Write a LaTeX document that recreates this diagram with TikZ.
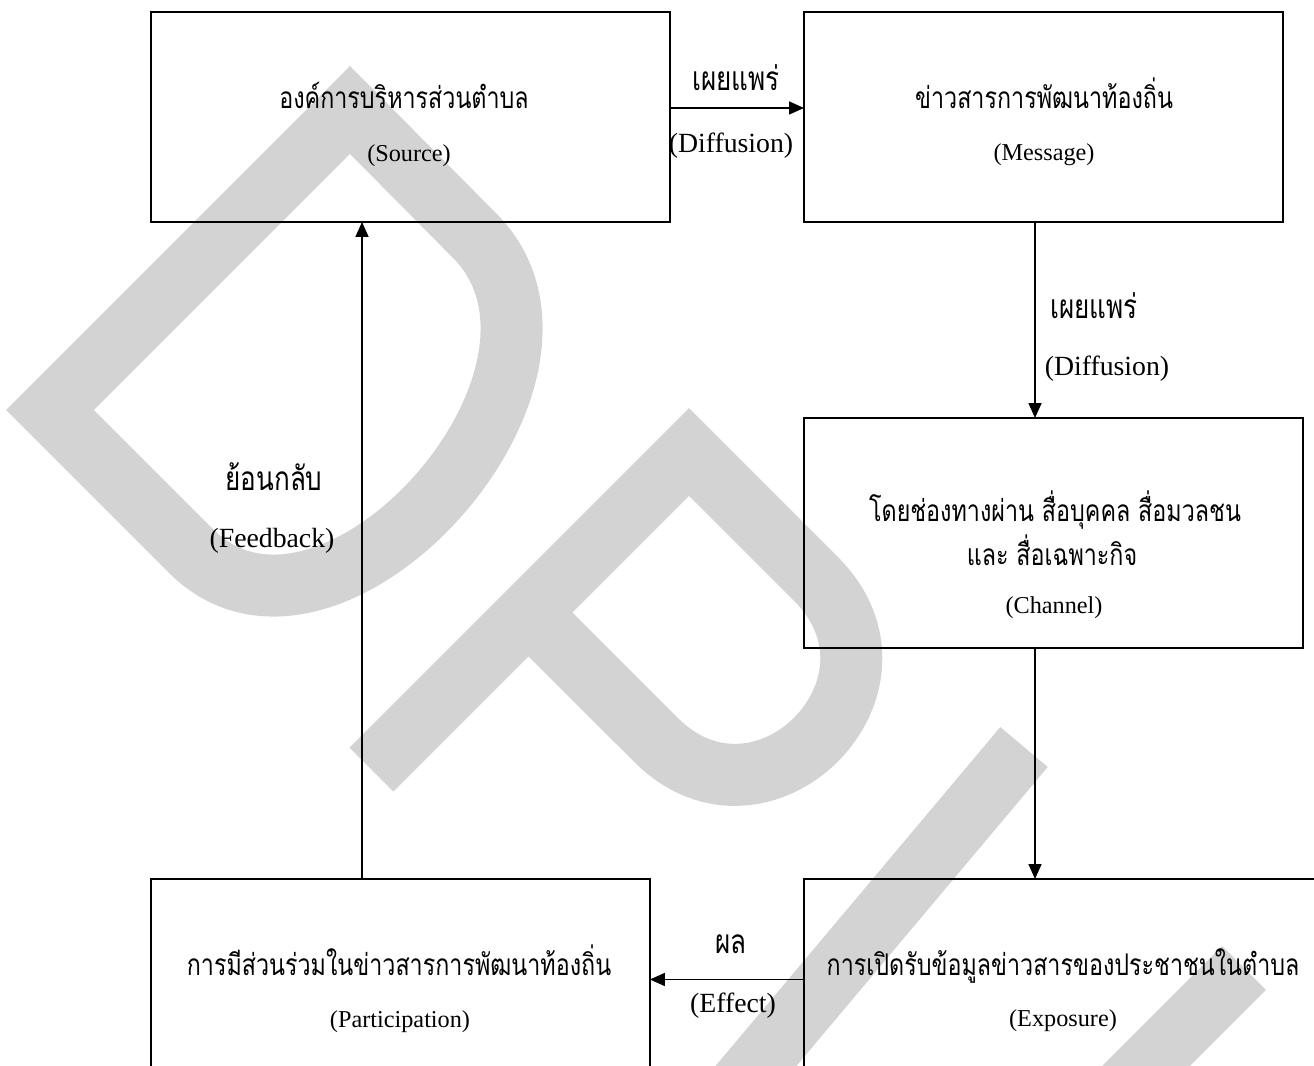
\documentclass[tikz,border=0pt]{standalone}
\usepackage{fontspec}
\setmainfont{Liberation Serif}
\newfontfamily\thaifont[Script=Thai, FakeStretch=0.78]{Loma}
\usetikzlibrary{arrows.meta}
\definecolor{wmgray}{RGB}{211,211,211}

\begin{document}
\begin{tikzpicture}[x=0.02cm, y=-0.02cm,
box/.style={draw, line width=1.1pt, anchor=north west, outer sep=0pt, inner sep=0pt},
thbox/.style={anchor=base, inner sep=0pt, font=\thaifont\fontsize{17}{20}\selectfont},
enbox/.style={anchor=base, inner sep=0pt, font=\fontsize{13.8}{16}\selectfont},
thlbl/.style={anchor=base, inner sep=0pt, font=\thaifont\fontsize{19}{22}\selectfont},
enlbl/.style={anchor=base, inner sep=0pt, font=\fontsize{15.8}{18}\selectfont},
arr/.style={-{Triangle[length=0.3cm, width=0.26cm]}, line width=0.9pt},
wm/.style={draw=wmgray, line width=1.24cm, line join=miter}]

\clip (0,0) rectangle (1314,1065);

% watermark
\draw[wm] (50,410) -- (350,110) -- (474,235) .. controls (613.5,374) and (330,690) .. (191,551) -- cycle;
\draw[wm] (371.5,769.5) -- (689,452) -- (816,579) .. controls (923,686) and (762.5,846.5) .. (655.8,739.7) -- (528.5,612.5);
\draw[wm] (1024,747) -- (740,1085) .. controls (650,1192) and (1000,1212) .. (1100,1112) -- (1244,968);

% boxes
\node[box, minimum width=10.38cm, minimum height=4.2cm] (source) at (151,12) {};
\node[box, minimum width=9.58cm, minimum height=4.2cm] (message) at (804,12) {};
\node[box, minimum width=9.98cm, minimum height=4.6cm] (channel) at (804,418) {};
\node[box, minimum width=10.52cm, minimum height=4.6cm] (exposure) at (804,879) {};
\node[box, minimum width=9.98cm, minimum height=4.6cm] (particip) at (151,879) {};

\node[thbox] (sourceth) at (404,108) {องค์การบริหารส่วนตำบล};
\node[enbox] (sourceen) at (409,161) {(Source)};
\node[thbox] (messageth) at (1044,108) {ข่าวสารการพัฒนาท้องถิ่น};
\node[enbox] (messageen) at (1044,160) {(Message)};
\node[thbox] (channelth) at (1055,521) {โดยช่องทางผ่าน สื่อบุคคล สื่อมวลชน};
\node[thbox] (channelth2) at (1052,565) {และ สื่อเฉพาะกิจ};
\node[enbox] (channelen) at (1054,613) {(Channel)};
\node[thbox] (exposureth) at (1063,975) {การเปิดรับข้อมูลข่าวสารของประชาชนในตำบล};
\node[enbox] (exposureen) at (1063,1026) {(Exposure)};
\node[thbox] (participth) at (399,975) {การมีส่วนร่วมในข่าวสารการพัฒนาท้องถิ่น};
\node[enbox] (participen) at (400,1027) {(Participation)};

% labels
\node[thlbl] (diff1th) at (736,90) {เผยแพร่};
\node[enlbl] (diff1en) at (731,152) {(Diffusion)};
\node[thlbl] (diff2th) at (1094,318) {เผยแพร่};
\node[enlbl] (diff2en) at (1107,375) {(Diffusion)};
\node[thlbl] (effectth) at (731,953) {ผล};
\node[enlbl] (effecten) at (733,1012) {(Effect)};
\node[thlbl] (feedth) at (274,490) {ย้อนกลับ};
\node[enlbl] (feeden) at (272,547) {(Feedback)};

% arrows
\coordinate (fbx) at (362,0);
\coordinate (dnx) at (1035,0);
\draw[arr] ([yshift=0.18cm]source.east) -- ([yshift=0.18cm]message.west);
\draw[arr] (message.south -| dnx) -- (channel.north -| dnx);
\draw[arr] (channel.south -| dnx) -- (exposure.north -| dnx);
\draw[arr] ([yshift=0.29cm]exposure.west) -- ([yshift=0.29cm]particip.east);
\draw[arr] (particip.north -| fbx) -- (source.south -| fbx);

\end{tikzpicture}
\end{document}
